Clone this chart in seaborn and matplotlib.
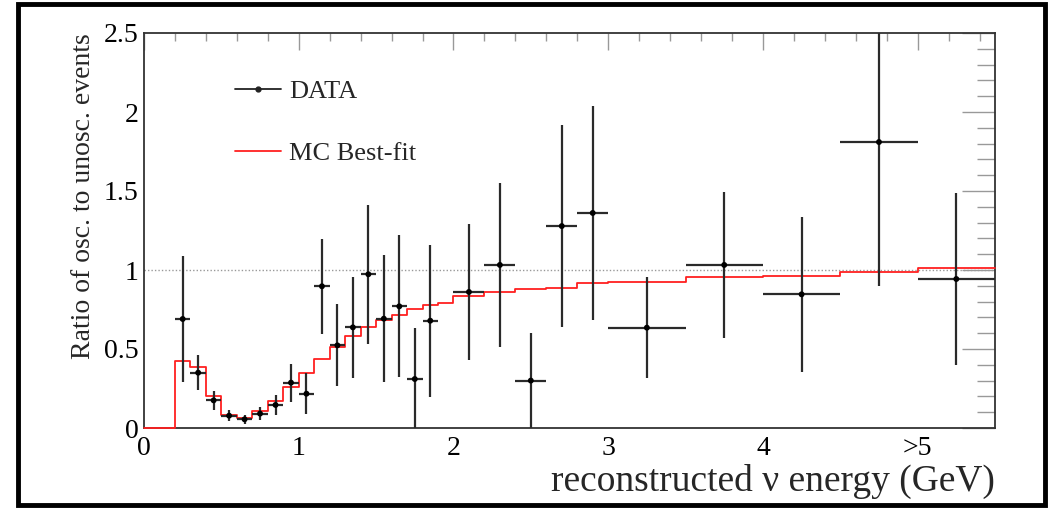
import numpy as np
import pandas as pd
import matplotlib
matplotlib.use("Agg")
import matplotlib.pyplot as plt
import seaborn as sns
from matplotlib.lines import Line2D
from matplotlib.patches import Rectangle

# ---------------- data ----------------
data_x = [0.25, 0.35, 0.45, 0.55, 0.65, 0.75, 0.85, 0.95, 1.05, 1.15, 1.25, 1.35,
          1.45, 1.55, 1.65, 1.75, 1.85, 2.1, 2.3, 2.5, 2.7, 2.9, 3.25, 3.75, 4.25,
          4.75, 5.25]
data_xerr = [0.05] * 17 + [0.1] * 5 + [0.25] * 5
data_y = [0.69, 0.35, 0.175, 0.078, 0.055, 0.091, 0.146, 0.287, 0.217, 0.897,
          0.523, 0.637, 0.973, 0.692, 0.77, 0.31, 0.679, 0.861, 1.032, 0.30,
          1.278, 1.361, 0.635, 1.032, 0.846, 1.81, 0.943]
data_yerr = [0.40, 0.11, 0.06, 0.033, 0.027, 0.04, 0.065, 0.12, 0.13, 0.30,
             0.26, 0.32, 0.44, 0.40, 0.45, 0.32, 0.48, 0.43, 0.52, 0.30,
             0.64, 0.68, 0.32, 0.46, 0.49, 0.91, 0.545]

mc_edges = [0.0, 0.2, 0.3, 0.4, 0.5, 0.6, 0.7, 0.8, 0.9, 1.0, 1.1, 1.2, 1.3, 1.4,
            1.5, 1.6, 1.7, 1.8, 1.9, 2.0, 2.2, 2.4, 2.6, 2.8, 3.0, 3.5, 4.0,
            4.5, 5.0, 5.5]
mc_values = [0.0, 0.426, 0.386, 0.205, 0.084, 0.065, 0.105, 0.173, 0.26, 0.35,
             0.435, 0.515, 0.582, 0.637, 0.684, 0.713, 0.751, 0.778, 0.793,
             0.833, 0.86, 0.878, 0.884, 0.916, 0.923, 0.954, 0.965, 0.99, 1.015]

xtick_values = [0, 1, 2, 3, 4, 5]
xtick_labels = ["0", "1", "2", "3", "4", ">5"]
ytick_values = [0, 0.5, 1, 1.5, 2, 2.5]
ytick_labels = ["0", "0.5", "1", "1.5", "2", "2.5"]

# ---------------- style ----------------
sns.set_theme(style="white")
plt.rcParams["font.family"] = ["Liberation Serif", "DejaVu Serif"]

W, H = 1053, 509
fig = plt.figure(figsize=(W / 100, H / 100), dpi=100)
ax = fig.add_axes([144 / W, 1 - 428 / H, (995 - 144) / W, (428 - 33) / H])

# reference line at 1
ax.axhline(1.0, color="#999999", lw=1.0, ls=(0, (1, 1.5)), zorder=1)

# MC best-fit step histogram
mc_df = pd.DataFrame({"x": mc_edges, "y": mc_values + [mc_values[-1]]})
sns.lineplot(data=mc_df, x="x", y="y", drawstyle="steps-post", color="#ff2020",
             lw=1.3, ax=ax, zorder=3, sort=False, estimator=None)
for ln in ax.get_lines()[1:]:
    ln.set_clip_on(False)

# data with error bars
ax.errorbar(data_x, data_y, xerr=data_xerr, yerr=data_yerr, fmt="none",
            ecolor="#2a2a2a", elinewidth=1.6, capsize=0, zorder=4)
df = pd.DataFrame({"x": data_x, "y": data_y})
sns.scatterplot(data=df, x="x", y="y", color="black", s=18, edgecolor="none",
                ax=ax, zorder=5)

ax.set_xlim(0, 5.5)
ax.set_ylim(0, 2.5)

ax.set_xticks(xtick_values)
ax.set_xticklabels(xtick_labels)
ax.set_yticks(ytick_values)
ax.set_yticklabels(ytick_labels)
ax.set_xticks(np.arange(0, 5.51, 0.2), minor=True)
ax.set_yticks(np.arange(0, 2.51, 0.1), minor=True)

ax.tick_params(axis="both", which="both", direction="in", top=True, right=True,
               color="#999999", width=1.0, labelsize=20, labelcolor="black")
ax.tick_params(axis="y", which="major", length=24, pad=4)
ax.tick_params(axis="y", which="minor", length=13)
ax.tick_params(axis="x", which="major", length=12, pad=6)
ax.tick_params(axis="x", which="minor", length=6)

for sp in ax.spines.values():
    sp.set_color("#333333")
    sp.set_linewidth(1.3)

ax.set_xlabel("reconstructed \u03bd energy (GeV)", fontsize=27, loc="right")
ax.xaxis.set_label_coords(1.0, -0.092)
ax.set_ylabel("Ratio of osc. to unosc. events", fontsize=20, loc="top")
ax.yaxis.set_label_coords(-0.056, 1.0)

handles = [Line2D([], [], color="#222222", lw=1.3, marker="o", markersize=3.5),
           Line2D([], [], color="#ff2020", lw=1.3)]
leg = ax.legend(handles, ["DATA", "MC Best-fit"], loc="upper left",
                bbox_to_anchor=(235 / W, 1 - 80 / H), bbox_transform=fig.transFigure,
                frameon=False, fontsize=19, handlelength=1.75, handletextpad=0.3,
                labelspacing=1.45, borderpad=0, borderaxespad=0)

# outer frame
fig.patches.append(Rectangle((18 / W, 4 / H), (1045 - 18) / W, (505 - 4) / H,
                             transform=fig.transFigure, fill=False,
                             edgecolor="black", lw=3.5))

fig.savefig("out.png", dpi=100, facecolor="white")
